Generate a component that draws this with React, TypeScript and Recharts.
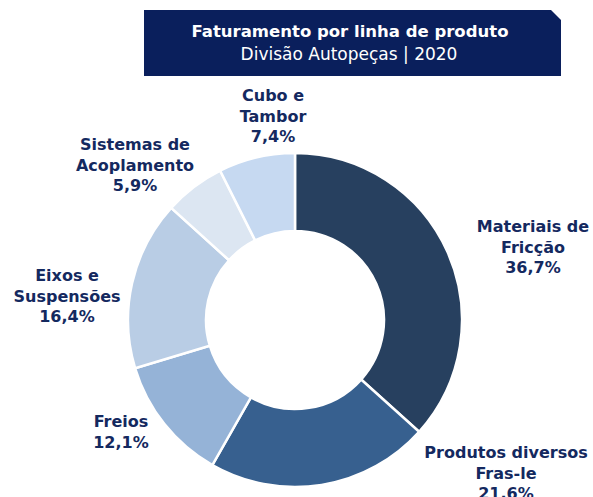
import { PieChart, Pie, Cell } from 'recharts'

const categories = [
  ['Materiais de', 'Fricção'],
  ['Produtos diversos', 'Fras-le'],
  ['Freios'],
  ['Eixos e', 'Suspensões'],
  ['Sistemas de', 'Acoplamento'],
  ['Cubo e', 'Tambor'],
]
const shares = [36.7, 21.6, 12.1, 16.4, 5.9, 7.4]
const shareLabels = ['36,7%', '21,6%', '12,1%', '16,4%', '5,9%', '7,4%']

const colors = ['#27405f', '#37608f', '#95b3d7', '#b9cde5', '#dce6f2', '#c6d9f1']
const labelColor = '#14295f'
const navy = '#0a1f5c'
const font = '"DejaVu Sans", sans-serif'

// label anchor (text centre x, first baseline y) relative to pie centre
const labelOffsets = [
  [238, -88],
  [211, 138],
  [-174, 107],
  [-228, -39],
  [-160, -170],
  [-22, -219],
]

const CX = 295
const CY = 320

const data = shares.map((value, i) => ({ name: categories[i].join(' '), value }))

function renderLabel(props: any) {
  const { index, cx, cy } = props
  const [dx, dy] = labelOffsets[index]
  const lines = [...categories[index], shareLabels[index]]
  const x = cx + dx
  return (
    <text
      key={`lbl-${index}`}
      x={x}
      y={cy + dy}
      textAnchor="middle"
      fill={labelColor}
      fontFamily={font}
      fontWeight={700}
      fontSize={16}
    >
      {lines.map((l, j) => (
        <tspan key={j} x={x} dy={j === 0 ? 0 : 20.7}>
          {l}
        </tspan>
      ))}
    </text>
  )
}

export default function App() {
  return (
    <div style={{ position: 'absolute', left: 0, top: 0, width: 593, height: 497, background: '#fff', overflow: 'hidden' }}>
      <svg width={593} height={497} style={{ position: 'absolute', left: 0, top: 0 }}>
        <polygon points="144,10 551,10 561,20 561,76 144,76" fill={navy} />
        <text x={350} y={37} textAnchor="middle" fill="#fff" fontFamily={font} fontWeight={700} fontSize={16.5}>
          Faturamento por linha de produto
        </text>
        <text x={349} y={60} textAnchor="middle" fill="#fff" fontFamily={font} fontSize={17}>
          Divisão Autopeças | 2020
        </text>
      </svg>
      <PieChart
        width={593}
        height={497}
        margin={{ top: 0, right: 0, bottom: 0, left: 0 }}
        style={{ position: 'absolute', left: 0, top: 0 }}
      >
        <Pie
          data={data}
          dataKey="value"
          cx={CX}
          cy={CY}
          innerRadius={89}
          outerRadius={167}
          startAngle={90}
          endAngle={-270}
          stroke="#fff"
          strokeWidth={2.5}
          label={renderLabel}
          labelLine={false}
          isAnimationActive={false}
        >
          {data.map((d, i) => (
            <Cell key={d.name} fill={colors[i]} />
          ))}
        </Pie>
      </PieChart>
    </div>
  )
}
